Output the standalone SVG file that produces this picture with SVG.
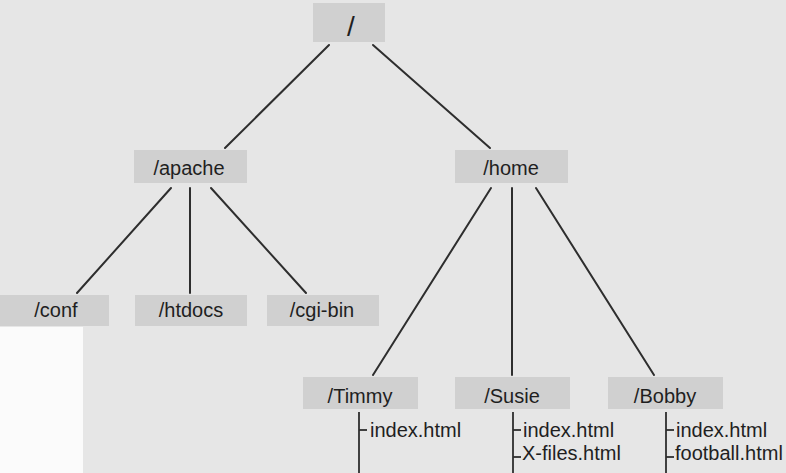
<svg xmlns="http://www.w3.org/2000/svg" width="786" height="473" viewBox="0 0 786 473">
<style>
.bg{fill:#e6e6e6}
.box{fill:#d0d0d0}
.lbl{font-family:"Liberation Sans",Arial,sans-serif;font-size:20px;fill:#1f1f1f;text-anchor:middle}
.file{font-family:"Liberation Sans",Arial,sans-serif;font-size:20px;fill:#1f1f1f}
.edge{stroke:#2e2e2e;stroke-width:2;fill:none;stroke-linecap:round}
.tree{stroke:#2e2e2e;stroke-width:1.8;fill:none}
</style>
<rect class="bg" x="0" y="0" width="786" height="473"/>
<rect x="0" y="327" width="83" height="146" fill="#fbfbfb"/>

<g id="connectors">
<line class="edge" x1="329" y1="45" x2="225" y2="148"/>
<line class="edge" x1="373" y1="45" x2="490" y2="148"/>
<line class="edge" x1="171" y1="188" x2="77" y2="293"/>
<line class="edge" x1="190" y1="188" x2="190" y2="293"/>
<line class="edge" x1="211" y1="188" x2="306" y2="293"/>
<line class="edge" x1="491" y1="188" x2="373" y2="375"/>
<line class="edge" x1="512" y1="188" x2="512" y2="375"/>
<line class="edge" x1="536" y1="188" x2="654" y2="375"/>
</g>

<g id="root">
<rect class="box" x="313" y="3" width="72" height="39"/>
<text class="lbl" x="351" y="36" style="font-size:28px">/</text>
</g>

<g id="apache">
<rect class="box" x="134" y="150" width="113" height="33"/>
<text class="lbl" x="189" y="175">/apache</text>
</g>

<g id="home">
<rect class="box" x="455" y="150" width="113" height="33"/>
<text class="lbl" x="511" y="175">/home</text>
</g>

<g id="conf">
<rect class="box" x="0" y="295" width="109" height="31"/>
<text class="lbl" x="56" y="317">/conf</text>
</g>

<g id="htdocs">
<rect class="box" x="135" y="295" width="112" height="31"/>
<text class="lbl" x="191" y="317">/htdocs</text>
</g>

<g id="cgi-bin">
<rect class="box" x="267" y="295" width="112" height="31"/>
<text class="lbl" x="322" y="317">/cgi-bin</text>
</g>

<g id="timmy">
<rect class="box" x="303" y="377" width="115" height="32"/>
<text class="lbl" x="360" y="403">/Timmy</text>
<line class="tree" x1="359" y1="412" x2="359" y2="473"/>
<line class="tree" x1="359" y1="430" x2="367" y2="430"/>
<text class="file" x="370" y="437">index.html</text>
</g>

<g id="susie">
<rect class="box" x="455" y="377" width="115" height="32"/>
<text class="lbl" x="512" y="403">/Susie</text>
<line class="tree" x1="513" y1="412" x2="513" y2="473"/>
<line class="tree" x1="513" y1="430" x2="521" y2="430"/>
<line class="tree" x1="513" y1="457" x2="521" y2="457"/>
<text class="file" x="523" y="437">index.html</text>
<text class="file" x="522" y="460">X-files.html</text>
</g>

<g id="bobby">
<rect class="box" x="608" y="377" width="115" height="32"/>
<text class="lbl" x="665" y="403">/Bobby</text>
<line class="tree" x1="666" y1="412" x2="666" y2="473"/>
<line class="tree" x1="666" y1="430" x2="674" y2="430"/>
<line class="tree" x1="666" y1="457" x2="674" y2="457"/>
<text class="file" x="676" y="437">index.html</text>
<text class="file" x="675" y="460">football.html</text>
</g>
</svg>
